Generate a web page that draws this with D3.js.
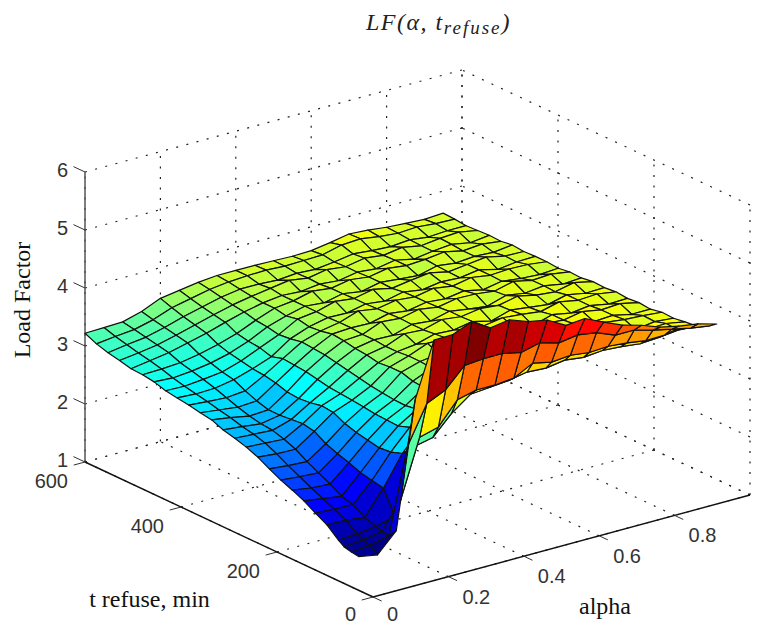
<!DOCTYPE html>
<html>
<head>
<meta charset="utf-8">
<script src="https://cdnjs.cloudflare.com/ajax/libs/d3/7.8.5/d3.min.js"></script>
<style>
  html, body { margin: 0; padding: 0; background: #fff; }
  svg { display: block; }
  .tick { font-family: "Liberation Sans", Arial, sans-serif; font-size: 20px; fill: #333; }
  .axisTitle { font-family: "Liberation Serif", serif; font-size: 24px; fill: #111; }
  .chartTitle { font-family: "Liberation Serif", serif; font-style: italic; font-size: 24px; fill: #222; }
</style>
</head>
<body>
<svg id="chart" width="766" height="626"></svg>
<script>
const alphaValues = [0, 0.05, 0.1, 0.15, 0.2, 0.25, 0.3, 0.35, 0.4, 0.45, 0.5, 0.55, 0.6, 0.65, 0.7, 0.75, 0.8, 0.85, 0.9, 0.95]
const tRefuseValues = [30, 45, 60, 72, 96, 120, 144, 168, 192, 216, 240, 264, 288, 312, 336, 360, 384, 408, 432, 456, 480, 504, 528, 552, 576, 600]
const alphaTicks = [0, 0.2, 0.4, 0.6, 0.8]
const tRefuseTicks = [0, 200, 400, 600]
const loadTicks = [1, 2, 3, 4, 5, 6]

// one row per t refuse value, one column per alpha value
const loadFactor = [
  [1.58, 1.52, 1.85, 4.02, 4.96, 4.97, 5.10, 4.91, 4.96, 4.84, 4.78, 4.60, 4.63, 4.48, 4.34, 4.25, 4.13, 4.06, 4.01, 3.92],
  [1.60, 1.63, 1.71, 3.18, 3.81, 3.96, 4.29, 4.32, 4.32, 4.25, 4.33, 4.24, 4.29, 4.24, 4.11, 4.11, 4.02, 3.95, 3.88, 3.83],
  [1.63, 1.66, 1.72, 2.18, 3.17, 3.26, 3.64, 3.72, 3.72, 3.75, 3.92, 3.85, 3.88, 3.84, 3.86, 3.83, 3.78, 3.79, 3.86, 3.78],
  [1.70, 1.72, 1.76, 1.84, 2.96, 3.03, 3.36, 3.60, 3.63, 3.66, 3.72, 3.70, 3.75, 3.71, 3.74, 3.72, 3.68, 3.70, 3.74, 3.72],
  [1.87, 1.86, 1.82, 2.24, 2.75, 3.10, 3.42, 3.60, 3.66, 3.73, 3.69, 3.76, 3.73, 3.77, 3.75, 3.77, 3.71, 3.75, 3.76, 3.70],
  [1.98, 1.96, 1.95, 2.28, 2.68, 3.02, 3.28, 3.50, 3.60, 3.65, 3.69, 3.65, 3.71, 3.69, 3.67, 3.71, 3.69, 3.65, 3.70, 3.67],
  [2.10, 2.05, 2.00, 2.32, 2.66, 2.95, 3.15, 3.35, 3.52, 3.68, 3.71, 3.77, 3.73, 3.75, 3.79, 3.71, 3.77, 3.73, 3.71, 3.68],
  [2.19, 2.14, 2.12, 2.40, 2.70, 2.96, 3.12, 3.34, 3.50, 3.61, 3.67, 3.63, 3.73, 3.69, 3.65, 3.73, 3.69, 3.71, 3.64, 3.64],
  [2.27, 2.24, 2.22, 2.46, 2.74, 2.97, 3.13, 3.36, 3.50, 3.67, 3.67, 3.73, 3.71, 3.79, 3.74, 3.71, 3.77, 3.71, 3.73, 3.66],
  [2.37, 2.34, 2.32, 2.54, 2.80, 3.00, 3.15, 3.42, 3.52, 3.56, 3.67, 3.63, 3.69, 3.67, 3.61, 3.71, 3.65, 3.69, 3.63, 3.64],
  [2.48, 2.45, 2.44, 2.66, 2.90, 3.02, 3.18, 3.42, 3.52, 3.65, 3.65, 3.71, 3.69, 3.74, 3.71, 3.67, 3.75, 3.69, 3.71, 3.66],
  [2.56, 2.54, 2.52, 2.70, 2.92, 3.04, 3.22, 3.40, 3.50, 3.54, 3.63, 3.61, 3.67, 3.59, 3.69, 3.65, 3.61, 3.69, 3.63, 3.64],
  [2.62, 2.60, 2.58, 2.68, 2.88, 3.06, 3.26, 3.44, 3.50, 3.63, 3.61, 3.70, 3.66, 3.71, 3.68, 3.75, 3.68, 3.65, 3.72, 3.65],
  [2.67, 2.64, 2.60, 2.66, 2.86, 3.10, 3.30, 3.46, 3.52, 3.51, 3.61, 3.58, 3.66, 3.61, 3.57, 3.67, 3.62, 3.66, 3.60, 3.62],
  [2.75, 2.70, 2.64, 2.66, 2.88, 3.14, 3.34, 3.50, 3.52, 3.65, 3.62, 3.69, 3.64, 3.70, 3.69, 3.65, 3.73, 3.66, 3.68, 3.63],
  [2.78, 2.74, 2.70, 2.72, 2.94, 3.16, 3.36, 3.52, 3.54, 3.53, 3.61, 3.57, 3.63, 3.60, 3.65, 3.58, 3.64, 3.60, 3.58, 3.60],
  [2.82, 2.79, 2.77, 2.80, 2.98, 3.18, 3.38, 3.48, 3.54, 3.65, 3.60, 3.66, 3.63, 3.69, 3.64, 3.70, 3.65, 3.67, 3.66, 3.62],
  [2.85, 2.83, 2.84, 2.90, 3.00, 3.12, 3.34, 3.46, 3.53, 3.52, 3.59, 3.55, 3.62, 3.57, 3.62, 3.60, 3.65, 3.57, 3.61, 3.62],
  [2.88, 2.87, 2.90, 2.94, 3.04, 3.18, 3.32, 3.50, 3.54, 3.63, 3.59, 3.66, 3.59, 3.64, 3.68, 3.61, 3.65, 3.69, 3.62, 3.61],
  [2.94, 2.92, 2.95, 3.00, 3.08, 3.20, 3.36, 3.46, 3.54, 3.51, 3.58, 3.53, 3.60, 3.57, 3.54, 3.62, 3.58, 3.61, 3.59, 3.63],
  [2.97, 2.98, 3.00, 3.06, 3.14, 3.24, 3.38, 3.50, 3.54, 3.62, 3.58, 3.64, 3.60, 3.66, 3.62, 3.64, 3.68, 3.61, 3.64, 3.60],
  [2.98, 3.03, 3.08, 3.16, 3.24, 3.34, 3.43, 3.50, 3.54, 3.52, 3.56, 3.53, 3.59, 3.56, 3.62, 3.55, 3.60, 3.63, 3.57, 3.61],
  [3.03, 3.07, 3.12, 3.20, 3.29, 3.38, 3.46, 3.52, 3.57, 3.62, 3.57, 3.63, 3.59, 3.65, 3.61, 3.66, 3.60, 3.64, 3.66, 3.60],
  [3.07, 3.12, 3.16, 3.24, 3.34, 3.42, 3.50, 3.55, 3.55, 3.53, 3.56, 3.54, 3.58, 3.63, 3.60, 3.58, 3.61, 3.57, 3.59, 3.59],
  [3.13, 3.17, 3.20, 3.28, 3.40, 3.47, 3.54, 3.58, 3.60, 3.61, 3.59, 3.60, 3.61, 3.69, 3.71, 3.66, 3.63, 3.65, 3.62, 3.61],
  [3.22, 3.23, 3.24, 3.33, 3.47, 3.52, 3.57, 3.60, 3.60, 3.60, 3.59, 3.58, 3.59, 3.64, 3.70, 3.68, 3.64, 3.62, 3.60, 3.62]
]

const svg = d3.select("#chart")

// the box is an oblique projection, each data axis adds its own screen offset
const alphaX = d3.scaleLinear().domain([0, 1]).range([373, 750])
const alphaY = d3.scaleLinear().domain([0, 1]).range([597, 495])
const tX = d3.scaleLinear().domain([0, 600]).range([0, -288])
const tY = d3.scaleLinear().domain([0, 600]).range([0, -135])
const loadY = d3.scaleLinear().domain([1, 6]).range([0, -290])

const px = (a, t) => alphaX(a) + tX(t)
const py = (a, t, z) => alphaY(a) + tY(t) + loadY(z)

// MATLAB jet colormap over the surface range
const zMin = d3.min(loadFactor, (row) => d3.min(row))
const zMax = d3.max(loadFactor, (row) => d3.max(row))
const jet = d3.scaleLinear()
  .domain([0, 0.125, 0.375, 0.625, 0.875, 1].map((f) => zMin + f * (zMax - zMin)))
  .range(["#000080", "#0000ff", "#00ffff", "#ffff00", "#ff0000", "#800000"])

const gridLines = svg.append("g")
function dotted(a0, t0, z0, a1, t1, z1) {
  gridLines.append("line")
    .attr("x1", px(a0, t0)).attr("y1", py(a0, t0, z0))
    .attr("x2", px(a1, t1)).attr("y2", py(a1, t1, z1))
    .attr("stroke", "#222")
    .attr("stroke-width", 1.2)
    .attr("stroke-dasharray", "2 8.5")
}

// floor
alphaTicks.concat([1]).forEach((a) => dotted(a, 0, 1, a, 600, 1))
tRefuseTicks.forEach((t) => dotted(0, t, 1, 1, t, 1))
// back wall at t = 600
alphaTicks.concat([1]).forEach((a) => dotted(a, 600, 1, a, 600, 6))
loadTicks.forEach((z) => dotted(0, 600, z, 1, 600, z))
// back wall at alpha = 1
tRefuseTicks.forEach((t) => dotted(1, t, 1, 1, t, 6))
loadTicks.forEach((z) => dotted(1, 0, z, 1, 600, z))

// axes
const axes = svg.append("g")
function axisLine(a0, t0, z0, a1, t1, z1, color, width) {
  axes.append("line")
    .attr("x1", px(a0, t0)).attr("y1", py(a0, t0, z0))
    .attr("x2", px(a1, t1)).attr("y2", py(a1, t1, z1))
    .attr("stroke", color)
    .attr("stroke-width", width)
}
axisLine(0, 600, 1, 0, 600, 6, "#555", 1.5)
axisLine(0, 0, 1, 0, 600, 1, "#111", 1.4)
axisLine(0, 0, 1, 1, 0, 1, "#111", 1.4)

loadTicks.forEach((z) => {
  axisLine(0, 600, z, 0, 624, z, "#333", 1)
  axes.append("text").attr("class", "tick")
    .attr("x", px(0, 600) - 17).attr("y", py(0, 600, z) + 5)
    .attr("text-anchor", "end")
    .text(z)
})
tRefuseTicks.forEach((t) => {
  axisLine(0, t, 1, -0.03, t, 1, "#333", 1)
  axes.append("text").attr("class", "tick")
    .attr("x", px(0, t) - 17).attr("y", Math.min(py(0, t, 1) + 26, 621))
    .attr("text-anchor", "end")
    .text(t)
})
alphaTicks.forEach((a) => {
  axisLine(a, 0, 1, a, -18, 1, "#333", 1)
  axes.append("text").attr("class", "tick")
    .attr("x", px(a, 0) + 14).attr("y", Math.min(py(a, 0, 1) + 27, 621))
    .attr("text-anchor", "start")
    .text(a)
})

// surface, painted from the far corner to the near one
const faces = []
d3.range(tRefuseValues.length - 2, -1, -1).forEach((i) => {
  d3.range(alphaValues.length - 2, -1, -1).forEach((j) => {
    const corner = (ii, jj) => [px(alphaValues[jj], tRefuseValues[ii]), py(alphaValues[jj], tRefuseValues[ii], loadFactor[ii][jj])]
    faces.push({
      value: loadFactor[i][j],
      points: [corner(i, j), corner(i, j + 1), corner(i + 1, j + 1), corner(i + 1, j)]
    })
  })
})

svg.append("g")
  .selectAll("polygon")
  .data(faces)
  .enter().append("polygon")
  .attr("points", (d) => d.points.map((p) => p.join(",")).join(" "))
  .attr("fill", (d) => jet(d.value))
  .attr("stroke", "#111")
  .attr("stroke-width", 1.2)
  .attr("stroke-linejoin", "round")

// titles
const title = svg.append("text")
  .attr("class", "chartTitle")
  .attr("x", 366)
  .attr("y", 30)
  .attr("letter-spacing", 1.5)
title.append("tspan").text("LF(α, t")
title.append("tspan").attr("dy", 4).attr("font-size", 19).attr("letter-spacing", 2).text("refuse")
title.append("tspan").attr("dy", -4).text(")")

svg.append("text")
  .attr("class", "axisTitle")
  .attr("transform", "translate(30,300) rotate(-90)")
  .attr("text-anchor", "middle")
  .text("Load Factor")

svg.append("text")
  .attr("class", "axisTitle")
  .attr("x", 149.5)
  .attr("y", 607)
  .attr("text-anchor", "middle")
  .text("t refuse, min")

svg.append("text")
  .attr("class", "axisTitle")
  .attr("x", 605)
  .attr("y", 614)
  .attr("text-anchor", "middle")
  .text("alpha")
</script>
</body>
</html>
